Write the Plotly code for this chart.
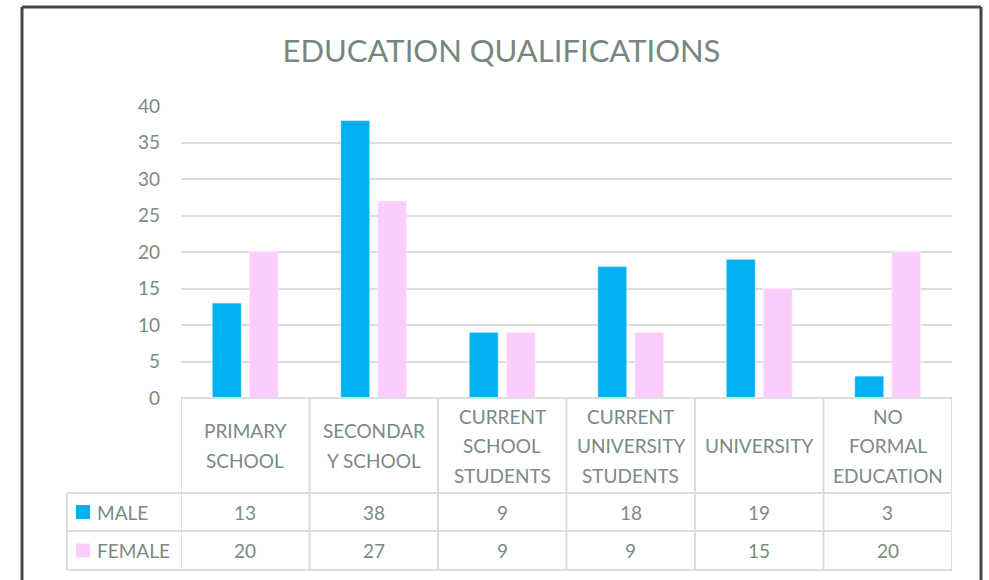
import plotly.graph_objects as go

# ---------------- data ----------------
categories = ["PRIMARY SCHOOL", "SECONDARY SCHOOL", "CURRENT SCHOOL STUDENTS",
              "CURRENT UNIVERSITY STUDENTS", "UNIVERSITY", "NO FORMAL EDUCATION"]
category_lines = [["PRIMARY", "SCHOOL"], ["SECONDAR", "Y SCHOOL"],
                  ["CURRENT", "SCHOOL", "STUDENTS"], ["CURRENT", "UNIVERSITY", "STUDENTS"],
                  ["UNIVERSITY"], ["NO", "FORMAL", "EDUCATION"]]
male = [13, 38, 9, 18, 19, 3]
female = [20, 27, 9, 9, 15, 20]
series_names = ["MALE", "FEMALE"]
y_ticks = [0, 5, 10, 15, 20, 25, 30, 35, 40]

# ---------------- style ----------------
W, H = 989, 580
L, R, T, B = 181, 37, 106, 182
PW, PH = W - L - R, H - T - B
FONT = "Lato"
TXT = "#7b8a84"
GRID = "#d9dddb"
TABLE_LINE = "#dadedc"
C_MALE = "#00b0f0"
C_FEMALE = "#fccdfc"
FRAME = "#3e4a46"


def px_x(px):
    return (px - L) / PW


def px_y(py):
    return (H - B - py) / PH


fig = go.Figure()
fig.add_trace(go.Bar(x=categories, y=male, name=series_names[0], marker_color=C_MALE,
                     marker_line=dict(color="rgba(255,255,255,0.5)", width=1)))
fig.add_trace(go.Bar(x=categories, y=female, name=series_names[1], marker_color=C_FEMALE,
                     marker_line=dict(color="rgba(255,255,255,0.5)", width=1)))

shapes = []
annotations = []

# table geometry (pixels)
header_top, header_bot, row1_bot, row2_bot = 398, 493, 531, 570
legend_left = 67
lw = 2

# top line of header
shapes.append(dict(type="line", xref="paper", yref="paper", x0=0, x1=1,
                   y0=px_y(header_top), y1=px_y(header_top), line=dict(color=TABLE_LINE, width=lw)))
# vertical category boundaries
for i in range(len(categories) + 1):
    shapes.append(dict(type="line", xref="x", yref="paper", x0=i - 0.5, x1=i - 0.5,
                       y0=px_y(header_top), y1=px_y(row2_bot), line=dict(color=TABLE_LINE, width=lw)))
# horizontal row lines
for yy in (header_bot, row1_bot, row2_bot):
    shapes.append(dict(type="line", xref="paper", yref="paper", x0=px_x(legend_left), x1=1,
                       y0=px_y(yy), y1=px_y(yy), line=dict(color=TABLE_LINE, width=lw)))
# legend column left edge
shapes.append(dict(type="line", xref="paper", yref="paper", x0=px_x(legend_left), x1=px_x(legend_left),
                   y0=px_y(header_bot), y1=px_y(row2_bot), line=dict(color=TABLE_LINE, width=lw)))

# header labels
mid = (header_top + header_bot) / 2
spacing = 29.5
for i, lines in enumerate(category_lines):
    n = len(lines)
    for j, txt in enumerate(lines):
        cy = mid + (j - (n - 1) / 2) * spacing
        annotations.append(dict(x=i, y=px_y(cy), xref="x", yref="paper", text=txt, showarrow=False,
                                xanchor="center", yanchor="middle",
                                font=dict(family=FONT, size=19, color=TXT)))

# data rows
rows = [(male, C_MALE, series_names[0], (header_bot + row1_bot) / 2),
        (female, C_FEMALE, series_names[1], (row1_bot + row2_bot) / 2)]
for vals, col, name, cy in rows:
    for i, v in enumerate(vals):
        annotations.append(dict(x=i, y=px_y(cy), xref="x", yref="paper", text=str(v), showarrow=False,
                                xanchor="center", yanchor="middle",
                                font=dict(family=FONT, size=19, color=TXT)))
    shapes.append(dict(type="rect", xref="paper", yref="paper", x0=px_x(76), x1=px_x(90),
                       y0=px_y(cy + 7), y1=px_y(cy - 7), fillcolor=col, line=dict(width=0)))
    annotations.append(dict(x=px_x(95), y=px_y(cy), xref="paper", yref="paper", text=name, showarrow=False,
                            xanchor="left", yanchor="middle",
                            font=dict(family=FONT, size=19, color=TXT)))

# outer frame (top, left, right)
fl, fr, ft = 22, 981, 7
shapes.append(dict(type="line", xref="paper", yref="paper", x0=px_x(fl), x1=px_x(fr),
                   y0=px_y(ft), y1=px_y(ft), line=dict(color=FRAME, width=3)))
shapes.append(dict(type="line", xref="paper", yref="paper", x0=px_x(fl), x1=px_x(fl),
                   y0=px_y(ft), y1=px_y(H + 10), line=dict(color=FRAME, width=3)))
shapes.append(dict(type="line", xref="paper", yref="paper", x0=px_x(fr), x1=px_x(fr),
                   y0=px_y(ft), y1=px_y(H + 10), line=dict(color=FRAME, width=3)))

fig.update_layout(
    width=W, height=H,
    margin=dict(l=L, r=R, t=T, b=B),
    paper_bgcolor="white", plot_bgcolor="white",
    showlegend=False,
    hovermode=False,
    barmode="group", bargap=0.424, bargroupgap=0.216,
    title=dict(text="EDUCATION QUALIFICATIONS", x=501.5 / W, xanchor="center",
               y=1 - 51 / H, yanchor="middle", xref="container", yref="container",
               font=dict(family=FONT, size=31, color="#76877f")),
    xaxis=dict(showticklabels=False, showgrid=False, zeroline=False, showline=False,
               range=[-0.5, len(categories) - 0.5], fixedrange=True),
    yaxis=dict(range=[0, 40], tickvals=y_ticks, showgrid=True, gridcolor=GRID, gridwidth=2,
               zeroline=False, showline=False, ticks="", ticklabelstandoff=20,
               tickfont=dict(family=FONT, size=19, color=TXT), fixedrange=True),
    shapes=shapes,
    annotations=annotations,
    font=dict(family=FONT, color=TXT),
)

fig.write_html("out.html", config={"displayModeBar": False},
               post_script="document.body.style.margin='0';")
